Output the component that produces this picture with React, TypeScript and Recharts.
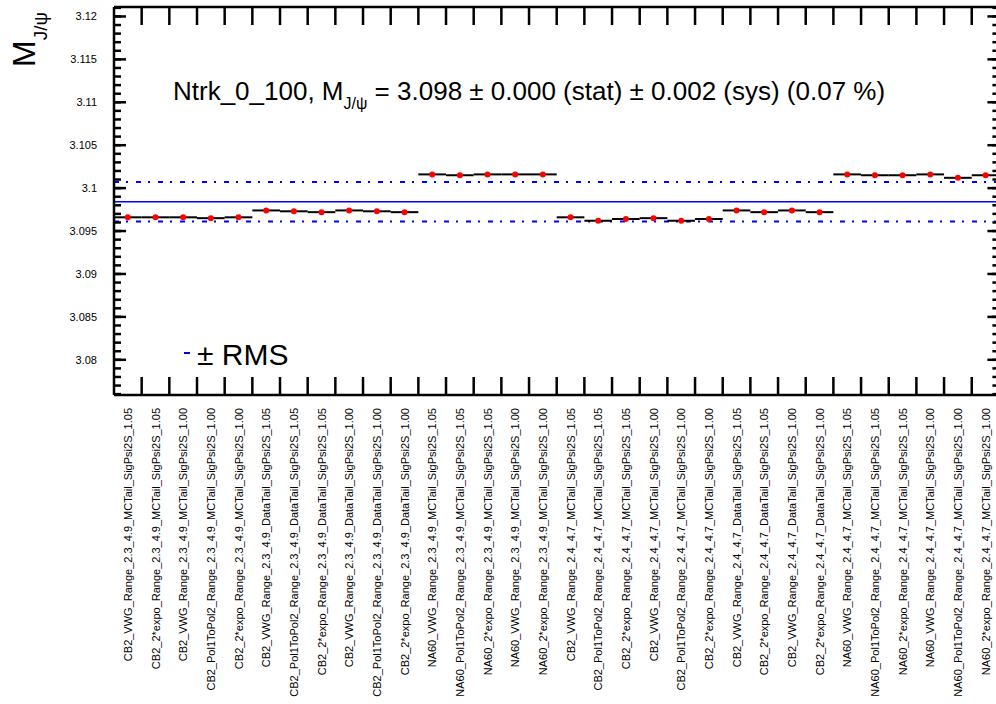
import { ScatterChart, Scatter, XAxis, YAxis, ErrorBar, ReferenceLine } from 'recharts';

const categories = [
  'CB2_VWG_Range_2.3_4.9_MCTail_SigPsi2S_1.05',
  'CB2_2*expo_Range_2.3_4.9_MCTail_SigPsi2S_1.05',
  'CB2_VWG_Range_2.3_4.9_MCTail_SigPsi2S_1.00',
  'CB2_Pol1ToPol2_Range_2.3_4.9_MCTail_SigPsi2S_1.00',
  'CB2_2*expo_Range_2.3_4.9_MCTail_SigPsi2S_1.00',
  'CB2_VWG_Range_2.3_4.9_DataTail_SigPsi2S_1.05',
  'CB2_Pol1ToPol2_Range_2.3_4.9_DataTail_SigPsi2S_1.05',
  'CB2_2*expo_Range_2.3_4.9_DataTail_SigPsi2S_1.05',
  'CB2_VWG_Range_2.3_4.9_DataTail_SigPsi2S_1.00',
  'CB2_Pol1ToPol2_Range_2.3_4.9_DataTail_SigPsi2S_1.00',
  'CB2_2*expo_Range_2.3_4.9_DataTail_SigPsi2S_1.00',
  'NA60_VWG_Range_2.3_4.9_MCTail_SigPsi2S_1.05',
  'NA60_Pol1ToPol2_Range_2.3_4.9_MCTail_SigPsi2S_1.05',
  'NA60_2*expo_Range_2.3_4.9_MCTail_SigPsi2S_1.05',
  'NA60_VWG_Range_2.3_4.9_MCTail_SigPsi2S_1.00',
  'NA60_2*expo_Range_2.3_4.9_MCTail_SigPsi2S_1.00',
  'CB2_VWG_Range_2.4_4.7_MCTail_SigPsi2S_1.05',
  'CB2_Pol1ToPol2_Range_2.4_4.7_MCTail_SigPsi2S_1.05',
  'CB2_2*expo_Range_2.4_4.7_MCTail_SigPsi2S_1.05',
  'CB2_VWG_Range_2.4_4.7_MCTail_SigPsi2S_1.00',
  'CB2_Pol1ToPol2_Range_2.4_4.7_MCTail_SigPsi2S_1.00',
  'CB2_2*expo_Range_2.4_4.7_MCTail_SigPsi2S_1.00',
  'CB2_VWG_Range_2.4_4.7_DataTail_SigPsi2S_1.05',
  'CB2_2*expo_Range_2.4_4.7_DataTail_SigPsi2S_1.05',
  'CB2_VWG_Range_2.4_4.7_DataTail_SigPsi2S_1.00',
  'CB2_2*expo_Range_2.4_4.7_DataTail_SigPsi2S_1.00',
  'NA60_VWG_Range_2.4_4.7_MCTail_SigPsi2S_1.05',
  'NA60_Pol1ToPol2_Range_2.4_4.7_MCTail_SigPsi2S_1.05',
  'NA60_2*expo_Range_2.4_4.7_MCTail_SigPsi2S_1.05',
  'NA60_VWG_Range_2.4_4.7_MCTail_SigPsi2S_1.00',
  'NA60_Pol1ToPol2_Range_2.4_4.7_MCTail_SigPsi2S_1.00',
  'NA60_2*expo_Range_2.4_4.7_MCTail_SigPsi2S_1.00',
];

// fitted J/psi mass per test
const massValues = [
  3.0966, 3.0966, 3.0966, 3.0965, 3.0966,
  3.0974, 3.0973, 3.0972, 3.0974, 3.0973, 3.0972,
  3.1016, 3.1015, 3.1016, 3.1016, 3.1016,
  3.0966, 3.0962, 3.0964, 3.0965, 3.0962, 3.0964,
  3.0974, 3.0972, 3.0974, 3.0972,
  3.1016, 3.1015, 3.1015, 3.1016, 3.1012, 3.1015,
];

const meanMass = 3.0984;
const rmsMass = 0.0023;

const xDomain = [0, 32];
const yDomain = [3.0759, 3.1211];
const yMajorTicks = [3.08, 3.085, 3.09, 3.095, 3.1, 3.105, 3.11, 3.115, 3.12];
const yMinorTicks = Array.from({ length: 46 }, (_, i) => +(3.076 + i * 0.001).toFixed(3));
const binEdges = Array.from({ length: 31 }, (_, i) => i + 1);
const binCenters = categories.map((_, i) => i + 0.5);

const data = massValues.map((m, i) => ({ x: i + 0.5, y: m, ex: 0.5 }));

const EmptyTick = () => <g />;

function NameTick({ x, y, payload }: any) {
  const label = categories[Math.round(payload.value - 0.5)];
  return (
    <text
      x={x}
      y={y}
      transform={`rotate(-90 ${x} ${y})`}
      textAnchor="end"
      dominantBaseline="central"
      fontSize={11}
      fill="#000"
    >
      {label}
    </text>
  );
}

const Dot = (props: any) => <circle cx={props.cx} cy={props.cy} r={3} fill="#ff0000" />;

export default function App() {
  const frame = { stroke: '#000', strokeWidth: 2.5 };
  const tickStyle = { stroke: '#000', strokeWidth: 2.5 };
  return (
    <div
      style={{
        position: 'absolute',
        left: 0,
        top: 0,
        width: 996,
        height: 704,
        overflow: 'hidden',
        background: '#fff',
        fontFamily: "'Liberation Sans', Arial, sans-serif",
      }}
    >
      <ScatterChart width={1010} height={704} margin={{ top: 6, right: 10.6, bottom: 8, left: 14 }}>
        {/* bin edge ticks, bottom (innermost, declared first) */}
        <XAxis
          xAxisId="edgeB"
          type="number"
          dataKey="x"
          domain={xDomain}
          allowDataOverflow
          ticks={binEdges}
          interval={0}
          height={1}
          tick={EmptyTick}
          tickSize={-18}
          tickMargin={0}
          tickLine={tickStyle}
          axisLine={frame}
        />
        <XAxis
          xAxisId="lab"
          type="number"
          dataKey="x"
          domain={xDomain}
          allowDataOverflow
          ticks={binCenters}
          interval={0}
          tick={NameTick}
          tickLine={false}
          tickSize={4}
          tickMargin={8}
          axisLine={false}
          height={300}
        />
        <XAxis
          xAxisId="edgeT"
          orientation="top"
          type="number"
          dataKey="x"
          domain={xDomain}
          allowDataOverflow
          ticks={binEdges}
          interval={0}
          height={1}
          tick={EmptyTick}
          tickSize={-18}
          tickMargin={0}
          tickLine={tickStyle}
          axisLine={frame}
        />
        <YAxis
          yAxisId="main"
          type="number"
          dataKey="y"
          domain={yDomain}
          allowDataOverflow
          ticks={yMajorTicks}
          interval={0}
          width={100}
          tickLine={false}
          tickSize={8}
          tickMargin={9}
          tick={{ fontSize: 11, fill: '#000' }}
          axisLine={frame}
        />
        <YAxis
          yAxisId="majL"
          type="number"
          domain={yDomain}
          allowDataOverflow
          ticks={yMajorTicks}
          interval={0}
          mirror
          width={1}
          tick={EmptyTick}
          tickSize={12}
          tickLine={tickStyle}
          axisLine={false}
        />
        <YAxis
          yAxisId="minL"
          type="number"
          domain={yDomain}
          allowDataOverflow
          ticks={yMinorTicks}
          interval={0}
          mirror
          width={1}
          tick={EmptyTick}
          tickSize={6}
          tickLine={tickStyle}
          axisLine={false}
        />
        <YAxis
          yAxisId="majR"
          orientation="right"
          type="number"
          domain={yDomain}
          allowDataOverflow
          ticks={yMajorTicks}
          interval={0}
          mirror
          width={1}
          tick={EmptyTick}
          tickSize={12}
          tickLine={tickStyle}
          axisLine={frame}
        />
        <YAxis
          yAxisId="minR"
          orientation="right"
          type="number"
          domain={yDomain}
          allowDataOverflow
          ticks={yMinorTicks}
          interval={0}
          mirror
          width={1}
          tick={EmptyTick}
          tickSize={6}
          tickLine={tickStyle}
          axisLine={false}
        />
        <ReferenceLine xAxisId="lab" yAxisId="main" y={meanMass} stroke="#0000ff" strokeWidth={1.5} />
        <ReferenceLine xAxisId="lab" yAxisId="main" y={meanMass + rmsMass} stroke="#0000ff" strokeWidth={2} strokeDasharray="5 7 2 8" />
        <ReferenceLine xAxisId="lab" yAxisId="main" y={meanMass - rmsMass} stroke="#0000ff" strokeWidth={2} strokeDasharray="5 7 2 8" />
        <Scatter xAxisId="lab" yAxisId="main" data={data} shape={Dot} isAnimationActive={false}>
          <ErrorBar dataKey="ex" direction="x" width={0} stroke="#000" strokeWidth={2} />
        </Scatter>
      </ScatterChart>
      <svg
        width={996}
        height={704}
        style={{ position: 'absolute', left: 0, top: 0, pointerEvents: 'none' }}
      >
        <text x={35} y={67} transform="rotate(-90 35 67)" fontSize={32} fill="#000">
          M<tspan fontSize={19} dy={12}>J/ψ</tspan>
        </text>
        <text x={173} y={100} fontSize={26} fill="#000">
          Ntrk_0_100, M<tspan fontSize={16} dy={9}>J/ψ</tspan>
          <tspan dy={-9}> = 3.098 ± 0.000 (stat) ± 0.002 (sys) (0.07 %)</tspan>
        </text>
        <line x1={184} x2={190} y1={353} y2={353} stroke="#0000ff" strokeWidth={2} />
        <text x={197} y={365} fontSize={30} fill="#000">± RMS</text>
      </svg>
    </div>
  );
}
